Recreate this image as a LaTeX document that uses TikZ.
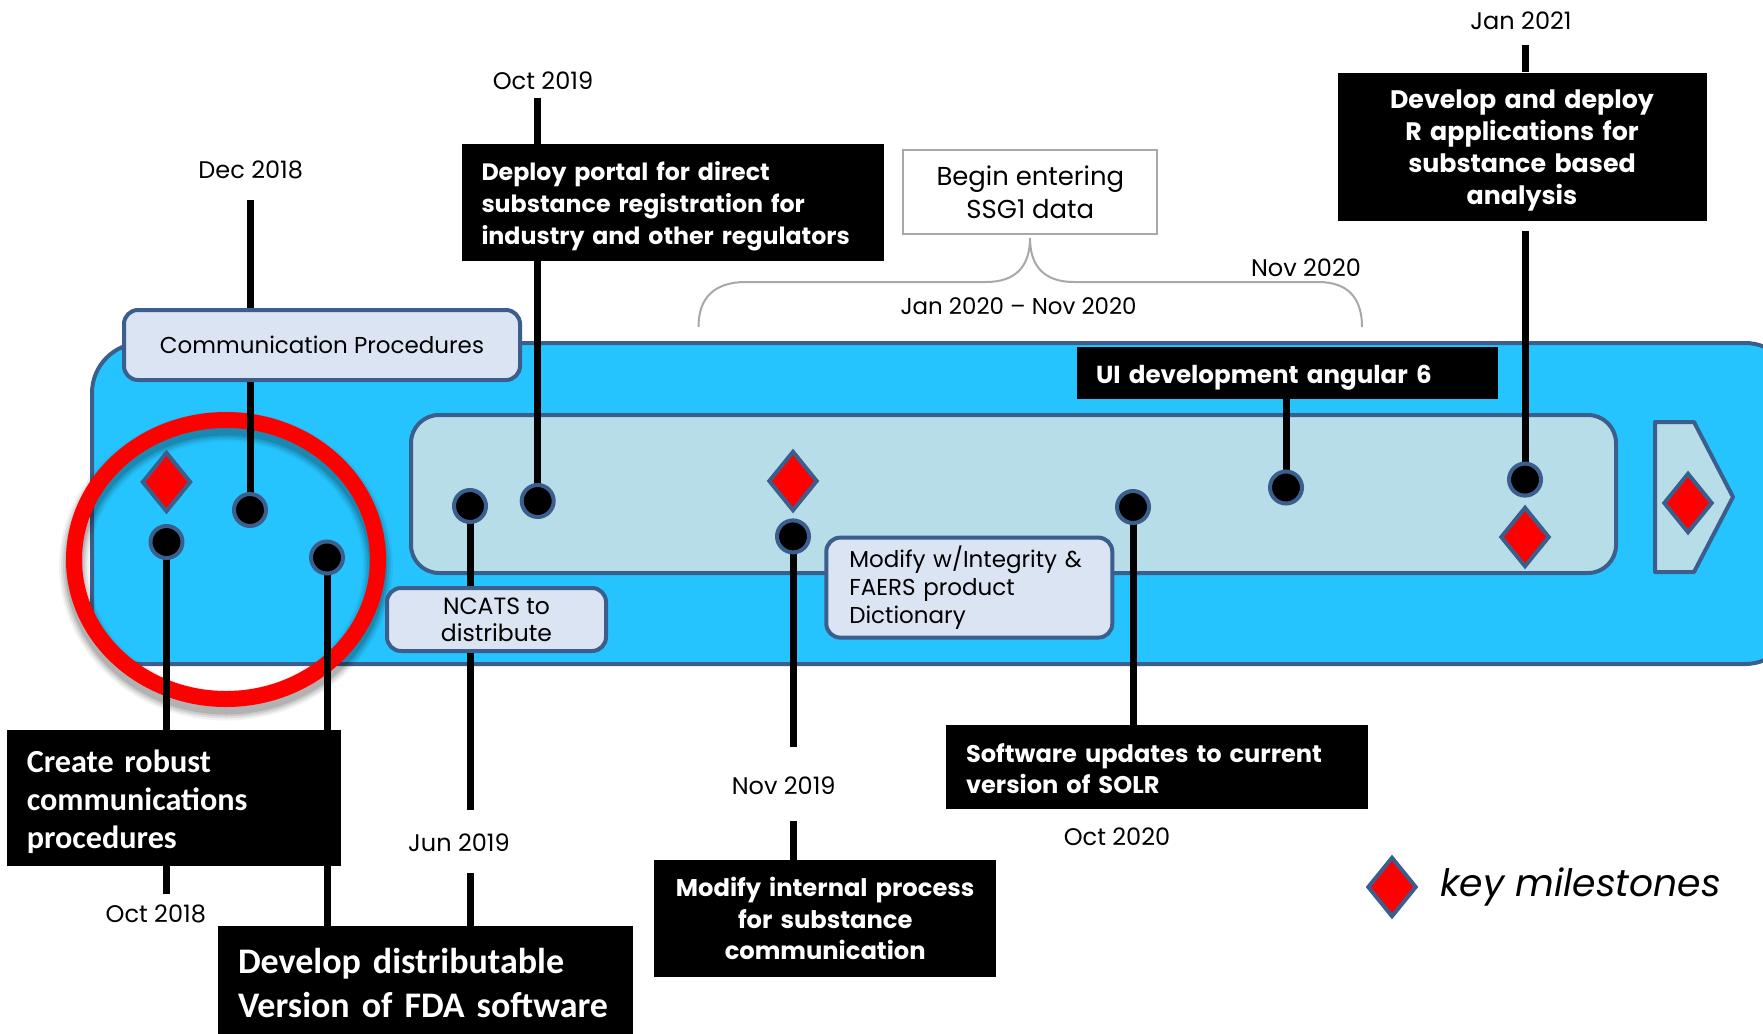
\documentclass[tikz,border=0pt]{standalone}
\usepackage{fontspec}
\setmainfont{Poppins}
\newfontfamily\calfont{Carlito}
\usetikzlibrary{shapes.geometric}
\pgfdeclarelayer{back}
\pgfdeclarelayer{stems}
\pgfsetlayers{back,stems,main}

\definecolor{barblue}{RGB}{38,196,255}
\definecolor{edgeblue}{RGB}{59,94,140}
\definecolor{paleblue}{RGB}{183,221,232}
\definecolor{labelfill}{RGB}{219,228,242}
\definecolor{bracegray}{RGB}{168,168,168}

\newcommand\fs[2]{\fontsize{#1}{#2}\selectfont}

\begin{document}
\begin{tikzpicture}[x=1pt,y=-1pt,
  dot/.style={circle, fill=black, draw=edgeblue, line width=4pt, minimum size=32pt, inner sep=0pt},
  gem/.style={diamond, fill=red, draw=edgeblue, line width=4pt, minimum width=49pt, minimum height=60pt, inner sep=0pt},
  stem/.style={line width=7pt, black},
  darkbox/.style={fill=black, inner sep=0pt},
  darktext/.style={text=white, inner sep=0pt, font=\bfseries},
  caltext/.style={text=white, inner sep=0pt},
  softbox/.style={fill=labelfill, draw=edgeblue, line width=4pt, rounded corners=14pt, inner sep=0pt},
  datelabel/.style={font=\fs{24}{28}, inner sep=0pt},
  brace/.style={draw=bracegray, line width=2pt}]
\useasboundingbox (0,0) rectangle (1763,1033);

% ---- timeline band, inner track and end chevron ----
\begin{pgfonlayer}{back}
  \fill[white] (0,0) rectangle (1763,1033);
  \draw[fill=barblue, draw=edgeblue, line width=4pt, rounded corners=50pt]
    (92,343) rectangle (1795,664);
  \draw[fill=paleblue, draw=edgeblue, line width=4pt, rounded corners=28pt]
    (411,415) rectangle (1616,573);
  \draw[fill=paleblue, draw=edgeblue, line width=4pt, line join=round]
    (1655,422) -- (1694,422) -- (1733,497) -- (1694,572) -- (1655,572) -- cycle;
  % highlight ring with a soft shadow
  \foreach \w/\o in {30/0.05, 26/0.07, 22/0.09, 18/0.12}
    \draw[black, opacity=\o, line width=\w pt] (226,566) ellipse [x radius=152, y radius=139.5];
  \draw[red, line width=16pt] (226,559.5) ellipse [x radius=152, y radius=139.5];
\end{pgfonlayer}

% ---- milestone dots ----
\node[dot] (c1) at (166.5,542) {};
\node[dot] (c2) at (250,510) {};
\node[dot] (c3) at (327,557.5) {};
\node[dot] (c4) at (470,506) {};
\node[dot] (c5) at (537.7,501) {};
\node[dot] (c6) at (793,536.4) {};
\node[dot] (c7) at (1133,507) {};
\node[dot] (c8) at (1286,487.5) {};
\node[dot] (c9) at (1525,479.6) {};

% ---- key milestone diamonds ----
\node[gem] (g1) at (166.5,482) {};
\node[gem] (g2) at (793,481) {};
\node[gem] (g3) at (1525,537) {};
\node[gem] (g4) at (1688,503) {};

% ---- label boxes on the band ----
\node[softbox, minimum width=396pt, minimum height=70pt, font=\fs{23}{28}] (comm) at (322,345) {Communication Procedures};
\node[softbox, minimum width=219pt, minimum height=63pt, align=center, font=\fs{23.5}{27}] (ncats) at (496.5,619.5) {NCATS to\\distribute};
\node[softbox, minimum width=286pt, minimum height=100pt, text width=240pt, align=left, font=\fs{23}{28.4}] (faers) at (969.3,587.6) {Modify w/Integrity \&\\FAERS product\\Dictionary};

% ---- black callout boxes ----
\node[darkbox, minimum width=422pt, minimum height=117pt] (portal) at (673,202.5) {};
\node[darktext, text width=383pt, align=left, font=\bfseries\fs{23.7}{32}, yshift=-3.5pt] (portalTxt) at (portal.center)
  {Deploy portal for direct\\substance registration for\\industry and other regulators};
\node[darkbox, minimum width=369pt, minimum height=148pt] (rapps) at (1522,146.5) {};
\node[darktext, text width=369pt, align=center, font=\bfseries\fs{25.3}{32}, yshift=-4pt] (rappsTxt) at (rapps.center)
  {Develop and deploy\\R applications for\\substance based\\analysis};
\node[darkbox, minimum width=421pt, minimum height=51.6pt] (ui) at (1287.5,372.8) {};
\node[darktext, text width=383pt, align=left, font=\bfseries\fs{24.6}{28}, yshift=-5pt] (uiTxt) at (ui.center)
  {UI development angular 6};
\node[darkbox, minimum width=334pt, minimum height=136pt] (robust) at (173.8,798) {};
\node[caltext, text width=294pt, align=left, font=\calfont\bfseries\fs{32.2}{38}, yshift=-4pt] (robustTxt) at (robust.center)
  {Create robust\\communications\\procedures};
\node[darkbox, minimum width=415pt, minimum height=114pt] (distr) at (425.5,983) {};
\node[caltext, text width=375pt, align=left, font=\calfont\bfseries\fs{36}{44.5}] (distrTxt) at (distr.center)
  {Develop distributable\\Version of FDA software};
\node[darkbox, minimum width=342pt, minimum height=116.5pt] (internal) at (825.2,918.7) {};
\node[darktext, text width=342pt, align=center, font=\bfseries\fs{24.2}{31.5}] (internalTxt) at (internal.center)
  {Modify internal process\\for substance\\communication};
\node[darkbox, minimum width=422pt, minimum height=84pt] (solr) at (1157,766.7) {};
\node[darktext, text width=382pt, align=left, font=\bfseries\fs{24.1}{30.6}, yshift=-2pt] (solrTxt) at (solr.center)
  {Software updates to current\\version of SOLR};

% ---- SSG1 note and its brace ----
\node[draw=bracegray, line width=2pt, fill=white, minimum width=254pt, minimum height=84pt, align=center, inner sep=0pt, font=\fs{25.9}{32.6}] (ssg) at (1030.3,192)
  {Begin entering\\SSG1 data};
\coordinate (brL) at (698.5,327);
\coordinate (brR) at (1362,327);
\coordinate (brTip) at (1030,238);
\draw[brace] (brL) .. controls (698.5,298) and (714,282) .. (746,282) -- (986,282)
  .. controls (1016,282) and (1030,266) .. (brTip)
  .. controls (1030,266) and (1044,282) .. (1074,282) -- (1318,282)
  .. controls (1348,282) and (1362,298) .. (brR);
\node[font=\fs{22.9}{26}, inner sep=0pt] (span) at (1018.6,306) {Jan 2020 -- Nov 2020};

% ---- dates ----
\node[datelabel] (dOct18) at (155.8,914) {Oct 2018};
\node[datelabel] (dDec18) at (250.7,170) {Dec 2018};
\node[datelabel] (dJun19) at (459,842.7) {Jun 2019};
\node[datelabel] (dOct19) at (543,80.7) {Oct 2019};
\node[datelabel] (dNov19) at (783.7,785.7) {Nov 2019};
\node[datelabel] (dOct20) at (1117,836.7) {Oct 2020};
\node[datelabel] (dNov20) at (1306,267.7) {Nov 2020};
\node[datelabel] (dJan21) at (1521,20.6) {Jan 2021};

% ---- legend ----
\node[gem] (gkey) at (1392,887) {};
\node[font=\itshape\fs{37.7}{42}, anchor=west, inner sep=0pt] (keytxt) at (1440,887) {key milestones};

% ---- stems from dates to dots ----
\coordinate (sDec18) at (250,200);
\coordinate (sOct19) at (537.7,97.7);
\coordinate (sOct18) at (166.5,894);
\coordinate (sDistr) at (327,930);
\coordinate (sJunA) at (470,810);
\coordinate (sJunB) at (470,873);
\coordinate (sNovA) at (793,746.6);
\coordinate (sNovB) at (793,821);
\coordinate (sJan21) at (1525,45.5);
\coordinate (sRapps) at (1525,231);
\begin{pgfonlayer}{stems}
  \draw[stem] (sDec18) -- (c2.center);
  \draw[stem] (sOct19) -- (c5.center);
  \draw[stem] (c1.center) -- (sOct18);
  \draw[stem] (c3.center) -- (sDistr);
  \draw[stem] (c4.center) -- (sJunA);
  \draw[stem] (sJunB) -- (distr.north -| sJunB);
  \draw[stem] (c6.center) -- (sNovA);
  \draw[stem] (sNovB) -- (internal.north -| sNovB);
  \draw[stem] (c7.center) -- (solr.north -| c7);
  \draw[stem] (ui.south -| c8) -- (c8.center);
  \draw[stem] (sJan21) -- (rapps.north -| sJan21);
  \draw[stem] (sRapps) -- (c9.center);
\end{pgfonlayer}
\end{tikzpicture}
\end{document}
